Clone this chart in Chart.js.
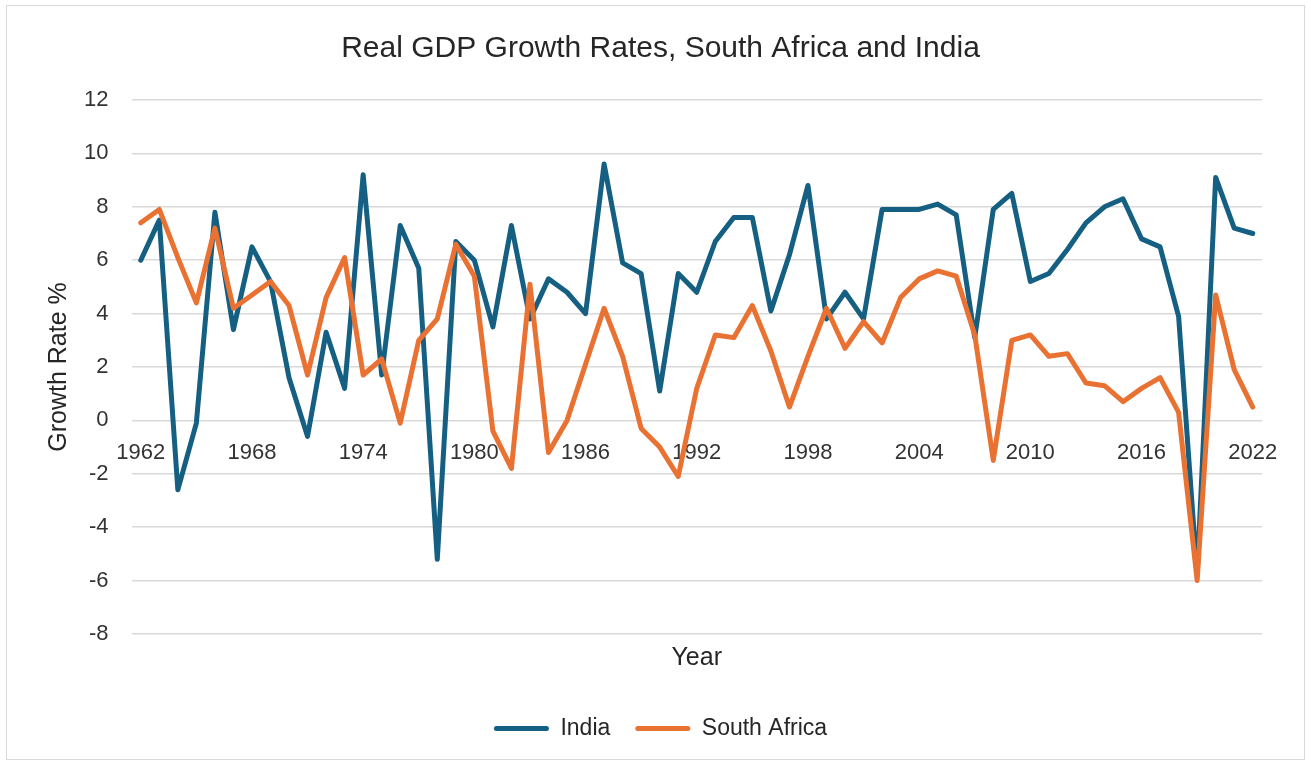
<!DOCTYPE html>
<html lang="en">
<head>
<meta charset="UTF-8">
<title>Real GDP Growth Rates, South Africa and India</title>
<script src="https://cdn.jsdelivr.net/npm/chart.js"></script>
<style>
    html, body {
        margin: 0;
        padding: 0;
        background: #fff;
    }
    .frame {
        position: absolute;
        left: 6px;
        top: 5px;
        width: 1297px;
        height: 753px;
        border: 1px solid #d9d9d9;
    }
</style>
</head>
<body>
<div class="frame"><canvas id="gdpChart"></canvas></div>

<script>
// years on the category axis
const years = [
    '1962', '1963', '1964', '1965', '1966', '1967', '1968', '1969', '1970', '1971',
    '1972', '1973', '1974', '1975', '1976', '1977', '1978', '1979', '1980', '1981',
    '1982', '1983', '1984', '1985', '1986', '1987', '1988', '1989', '1990', '1991',
    '1992', '1993', '1994', '1995', '1996', '1997', '1998', '1999', '2000', '2001',
    '2002', '2003', '2004', '2005', '2006', '2007', '2008', '2009', '2010', '2011',
    '2012', '2013', '2014', '2015', '2016', '2017', '2018', '2019', '2020', '2021',
    '2022'
];

// only these years get a label under the axis
const xTickLabels = ['1962', '1968', '1974', '1980', '1986', '1992', '1998', '2004', '2010', '2016', '2022'];

// growth rate %
const india = [
    6.0, 7.5, -2.6, -0.1, 7.8, 3.4, 6.5, 5.2, 1.6, -0.6,
    3.3, 1.2, 9.2, 1.7, 7.3, 5.7, -5.2, 6.7, 6.0, 3.5,
    7.3, 3.8, 5.3, 4.8, 4.0, 9.6, 5.9, 5.5, 1.1, 5.5,
    4.8, 6.7, 7.6, 7.6, 4.1, 6.2, 8.8, 3.8, 4.8, 3.8,
    7.9, 7.9, 7.9, 8.1, 7.7, 3.1, 7.9, 8.5, 5.2, 5.5,
    6.4, 7.4, 8.0, 8.3, 6.8, 6.5, 3.9, -5.8, 9.1, 7.2,
    7.0
];

const southAfrica = [
    7.4, 7.9, 6.1, 4.4, 7.2, 4.2, 4.7, 5.2, 4.3, 1.7,
    4.6, 6.1, 1.7, 2.3, -0.1, 3.0, 3.8, 6.6, 5.4, -0.4,
    -1.8, 5.1, -1.2, 0.0, 2.1, 4.2, 2.4, -0.3, -1.0, -2.1,
    1.2, 3.2, 3.1, 4.3, 2.6, 0.5, 2.4, 4.2, 2.7, 3.7,
    2.9, 4.6, 5.3, 5.6, 5.4, 3.2, -1.5, 3.0, 3.2, 2.4,
    2.5, 1.4, 1.3, 0.7, 1.2, 1.6, 0.3, -6.0, 4.7, 1.9,
    0.5
];

Chart.defaults.font.family = '"Liberation Sans", Arial, sans-serif';

const textColor = '#333333';

const ctx = document.getElementById('gdpChart');
const gdpChart = new Chart(ctx, {
    type: 'line',
    data: {
        labels: years,
        datasets: [{
            label: 'India',
            data: india,
            borderColor: '#156082',
            backgroundColor: '#156082',
            borderWidth: 5,
            pointRadius: 0,
            borderJoinStyle: 'round',
            borderCapStyle: 'round',
            order: 1
        }, {
            label: 'South Africa',
            data: southAfrica,
            borderColor: '#E97132',
            backgroundColor: '#E97132',
            borderWidth: 5,
            pointRadius: 0,
            borderJoinStyle: 'round',
            borderCapStyle: 'round',
            order: 0 // drawn on top, like excel
        }]
    },
    options: {
        responsive: true,
        maintainAspectRatio: false,
        animation: false,
        layout: {
            padding: { top: 10, bottom: 9, left: 52, right: 42 }
        },
        plugins: {
            title: {
                display: true,
                text: 'Real GDP Growth Rates, South Africa and India',
                color: '#262626',
                font: { size: 30, weight: 'normal' },
                padding: { top: 15, bottom: 33 }
            },
            // x axis title sits under the plot, above the legend
            subtitle: {
                display: true,
                text: 'Year',
                position: 'bottom',
                fullSize: false,
                weight: 500,
                color: '#262626',
                font: { size: 25, weight: 'normal' },
                padding: { top: 9, bottom: 19 }
            },
            legend: {
                position: 'bottom',
                labels: {
                    boxWidth: 55,
                    boxHeight: 5,
                    padding: 25,
                    color: '#262626',
                    font: { size: 23 },
                    useBorderRadius: true,
                    borderRadius: 2.5,
                    generateLabels: function (chart) {
                        const items = Chart.defaults.plugins.legend.labels.generateLabels(chart);
                        items.sort((a, b) => a.datasetIndex - b.datasetIndex);
                        return items.map(item => Object.assign(item, { lineWidth: 0 }));
                    }
                }
            },
            tooltip: { enabled: false }
        },
        scales: {
            x: {
                position: { y: 0 },
                offset: true,
                grid: { display: false },
                border: { display: false },
                ticks: {
                    autoSkip: false,
                    maxRotation: 0,
                    padding: 11,
                    color: textColor,
                    font: { size: 22 },
                    callback: function (value) {
                        const label = this.getLabelForValue(value);
                        return xTickLabels.includes(label) ? label : null;
                    }
                },
                afterFit: function (scale) {
                    scale.paddingLeft = 0;
                    scale.paddingRight = 0;
                }
            },
            y: {
                min: -8,
                max: 12,
                ticks: {
                    stepSize: 2,
                    padding: 23,
                    color: textColor,
                    font: { size: 22 }
                },
                grid: {
                    color: '#d9d9d9',
                    lineWidth: 1.5,
                    drawTicks: false
                },
                border: { display: false },
                title: {
                    display: true,
                    text: 'Growth Rate %',
                    color: '#262626',
                    font: { size: 25 },
                    padding: { top: -15, bottom: 12 }
                },
                afterFit: function (scale) {
                    scale.width = 72.5;
                }
            }
        }
    }
});
</script>
</body>
</html>
